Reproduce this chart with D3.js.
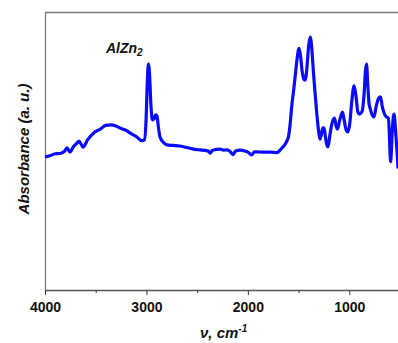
<!DOCTYPE html>
<html>
<head>
<meta charset="utf-8">
<script src="https://cdn.jsdelivr.net/npm/d3@7"></script>
<style>
  html, body { margin: 0; padding: 0; background: #fff; }
  svg { display: block; font-family: "Liberation Sans", Arial, sans-serif; }
</style>
</head>
<body>
<svg id="chart" width="398" height="343"></svg>
<script>
// Wavenumber (cm^-1)
const wavenumbers = [4000,3951,3900,3852,3810,3783,3754,3720,3680,3665,3640,3625,3580,3520,3458,3400,3350,3300,3261,3200,3162,3100,3044,3020,3005,2990,2980,2970,2955,2940,2925,2910,2896,2880,2866,2830,2797,2740,2669,2620,2570,2520,2472,2420,2390,2373,2350,2324,2275,2240,2209,2180,2147,2120,2077,2030,2000,1962,1935,1913,1851,1782,1740,1716,1690,1666,1640,1617,1600,1585,1568,1550,1535,1515,1496,1480,1466,1450,1437,1420,1400,1385,1370,1355,1340,1321,1300,1289,1275,1260,1249,1235,1220,1210,1190,1170,1146,1130,1116,1095,1067,1050,1030,1013,995,975,953,935,915,900,875,855,840,830,818,805,796,775,756,735,710,692,675,660,648,630,615,605,598,592,585,575,559,545,530,520];
// Absorbance (arbitrary units)
const absorbance = [0.479,0.483,0.490,0.491,0.498,0.511,0.496,0.515,0.530,0.536,0.522,0.514,0.540,0.565,0.578,0.592,0.594,0.590,0.583,0.574,0.565,0.552,0.537,0.540,0.600,0.760,0.813,0.780,0.660,0.612,0.615,0.630,0.625,0.580,0.550,0.530,0.522,0.520,0.518,0.514,0.510,0.506,0.504,0.502,0.500,0.492,0.502,0.505,0.507,0.503,0.504,0.500,0.487,0.500,0.503,0.500,0.496,0.486,0.497,0.497,0.496,0.496,0.495,0.494,0.500,0.510,0.520,0.535,0.551,0.590,0.659,0.715,0.763,0.830,0.869,0.840,0.790,0.760,0.755,0.790,0.880,0.910,0.870,0.791,0.720,0.637,0.565,0.543,0.560,0.583,0.583,0.550,0.520,0.515,0.560,0.600,0.618,0.590,0.579,0.610,0.640,0.610,0.575,0.569,0.600,0.680,0.734,0.700,0.640,0.633,0.641,0.700,0.790,0.813,0.740,0.670,0.656,0.630,0.623,0.660,0.690,0.695,0.660,0.640,0.629,0.622,0.618,0.560,0.490,0.462,0.500,0.580,0.633,0.580,0.500,0.442];
const majorTicks = [4000, 3000, 2000, 1000];
const minorTicks = [3500, 2500, 1500];
const sampleLabel = "AlZn";
const sampleSub = "2";
const yLabel = "Absorbance (a. u.)";

(function () {
const data = wavenumbers.map((w, i) => ({ w, a: absorbance[i] }));

const svg = d3.select("#chart");
const mL = 45, mT = 12, mR = 400, mB = 290;

const x = d3.scaleLinear().domain([4000, 500]).range([mL, mR]);
const y = d3.scaleLinear().domain([0, 1]).range([mB, mT]);

svg.append("defs").append("clipPath").attr("id", "clip")
  .append("rect").attr("x", mL).attr("y", mT).attr("width", mR - mL).attr("height", mB - mT);

// frame: top and left (gray)
svg.append("line").attr("x1", mL).attr("x2", 398).attr("y1", mT + 0.5).attr("y2", mT + 0.5)
  .attr("stroke", "#7a7a7a").attr("stroke-width", 1.3);
svg.append("line").attr("x1", mL + 0.5).attr("x2", mL + 0.5).attr("y1", mT).attr("y2", mB)
  .attr("stroke", "#7a7a7a").attr("stroke-width", 1.3);

// bottom axis
const xAxis = d3.axisBottom(x).tickValues(majorTicks).tickSize(5).tickPadding(7).tickFormat(d3.format("d"));
const gx = svg.append("g").attr("transform", `translate(0,${mB})`).call(xAxis);
gx.select(".domain").attr("stroke", "#555").attr("stroke-width", 1.3).attr("d", `M${mL},0.5H398`);
gx.selectAll(".tick line").attr("stroke", "#333");
gx.selectAll(".tick text").attr("font-size", 14).attr("font-weight", "bold")
  .attr("font-family", "'Liberation Sans', Arial, sans-serif").attr("fill", "#111");
const gmin = svg.append("g").attr("transform", `translate(0,${mB})`)
  .call(d3.axisBottom(x).tickValues(minorTicks).tickSize(3).tickFormat(""));
gmin.select(".domain").remove();
gmin.selectAll(".tick line").attr("stroke", "#333");

// spectrum line
const line = d3.line().x(d => x(d.w)).y(d => y(d.a)).curve(d3.curveMonotoneX);
svg.append("path").datum(data).attr("d", line)
  .attr("fill", "none").attr("stroke", "#0a0aff").attr("stroke-width", 3.2)
  .attr("stroke-linejoin", "round").attr("stroke-linecap", "round")
  .attr("clip-path", "url(#clip)");

// sample label
const lab = svg.append("text").attr("x", 106).attr("y", 53)
  .attr("font-size", 14).attr("font-weight", "bold").attr("font-style", "italic").attr("fill", "#111");
lab.append("tspan").text(sampleLabel);
lab.append("tspan").attr("font-size", 10).attr("dy", 3).text(sampleSub);

// y label
svg.append("text").attr("transform", `translate(29,149) rotate(-90)`).attr("text-anchor", "middle")
  .attr("font-size", 15).attr("font-weight", "bold").attr("font-style", "italic").attr("fill", "#111")
  .text(yLabel);

// x label
const xl = svg.append("text").attr("x", 200).attr("y", 338)
  .attr("font-size", 15).attr("font-weight", "bold").attr("font-style", "italic").attr("fill", "#111");
xl.append("tspan").text("ν, cm");
xl.append("tspan").attr("font-size", 10).attr("dy", -6).text("-1");
})();
</script>
</body>
</html>
